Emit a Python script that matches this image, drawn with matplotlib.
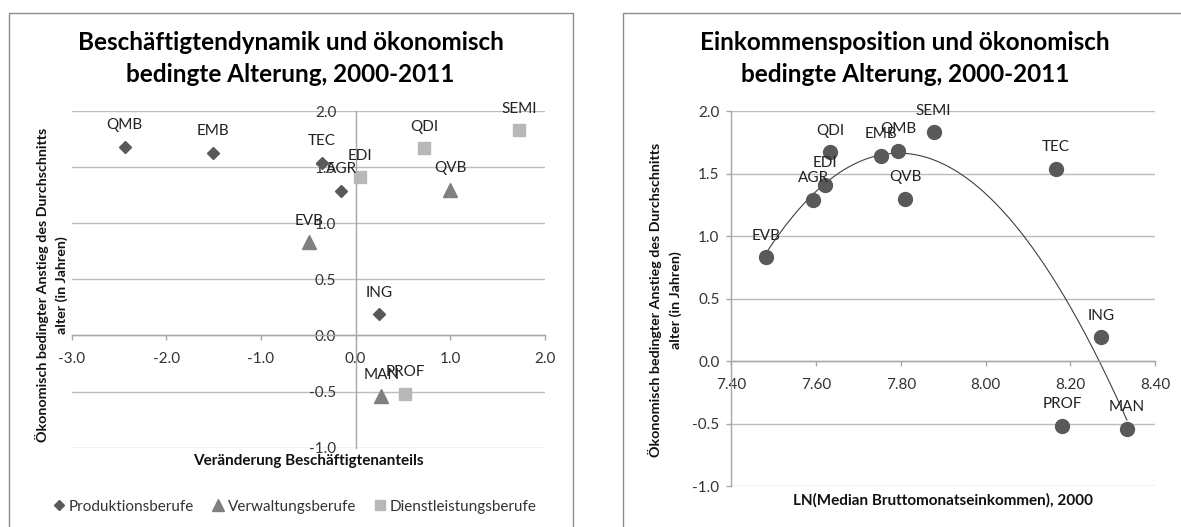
import numpy as np
import matplotlib
matplotlib.use("Agg")
import matplotlib.pyplot as plt
from matplotlib.lines import Line2D
from matplotlib.patches import Rectangle
from matplotlib.ticker import MultipleLocator, FormatStrFormatter

plt.rcParams['font.family'] = ['Lato', 'DejaVu Sans']

# ---------------- data ----------------
# Left chart: employment dynamics vs. ageing
prod_labels = ["QMB", "EMB", "TEC", "AGR", "ING"]
prod_x = [-2.44, -1.51, -0.36, -0.15, 0.25]
prod_y = [1.68, 1.63, 1.54, 1.29, 0.19]

verw_labels = ["EVB", "QVB", "MAN"]
verw_x = [-0.49, 1.00, 0.27]
verw_y = [0.83, 1.30, -0.54]

dienst_labels = ["SEMI", "QDI", "EDI", "PROF"]
dienst_x = [1.73, 0.72, 0.05, 0.52]
dienst_y = [1.83, 1.67, 1.41, -0.52]

# Right chart: income position vs. ageing
inc_labels = ["EVB", "AGR", "EDI", "QDI", "EMB", "QMB", "QVB", "SEMI", "TEC", "ING", "PROF", "MAN"]
inc_x = [7.483, 7.593, 7.621, 7.633, 7.754, 7.793, 7.810, 7.877, 8.166, 8.272, 8.181, 8.333]
inc_y = [0.83, 1.29, 1.41, 1.67, 1.64, 1.68, 1.30, 1.83, 1.54, 0.19, -0.52, -0.54]

legend_labels = ["Produktionsberufe", "Verwaltungsberufe", "Dienstleistungsberufe"]
title_left = ["Beschäftigtendynamik und ökonomisch", "bedingte Alterung, 2000-2011"]
title_right = ["Einkommensposition und ökonomisch", "bedingte Alterung, 2000-2011"]
ylabel_lines = ["Ökonomisch bedingter Anstieg des Durchschnitts", "alter (in Jahren)"]
xlabel_left = "Veränderung Beschäftigtenanteils"
xlabel_right = "LN(Median Bruttomonatseinkommen), 2000"

# ---------------- style ----------------
W, H = 1181, 527
fig = plt.figure(figsize=(W / 100, H / 100), dpi=100)

C_DIAM = "#595959"
C_TRI = "#808080"
C_SQ = "#b8b8b8"
C_GRID = "#bcbcbc"
C_AXIS = "#a6a6a6"
C_TICK = "#333333"
LBL_FS = 11
TICK_FS = 11


def fx(px):
    return px / W


def fy(py):
    return 1 - py / H


# panel borders
fig.add_artist(Rectangle((fx(8.5), -0.05), fx(573) - fx(8.5), fy(13.3) + 0.05,
                         transform=fig.transFigure, fill=False, ec="#8c8c8c", lw=1.0))
fig.add_artist(Rectangle((fx(623), -0.05), 0.5, fy(13.3) + 0.05,
                         transform=fig.transFigure, fill=False, ec="#8c8c8c", lw=1.0))


def style_axes(ax):
    ax.grid(axis="y", color=C_GRID, lw=1.0)
    ax.set_axisbelow(True)
    for s in ["top", "right"]:
        ax.spines[s].set_visible(False)
    for s in ["left", "bottom"]:
        ax.spines[s].set_color(C_AXIS)
        ax.spines[s].set_linewidth(1.0)
    ax.tick_params(axis="both", colors=C_AXIS, labelcolor=C_TICK, labelsize=TICK_FS,
                   length=3.5, width=1.0)
    ax.tick_params(axis="x", pad=8.5)
    ax.tick_params(axis="y", pad=6)


def annotate(ax, xs, ys, labels):
    for x, y, t in zip(xs, ys, labels):
        ax.annotate(t, (x, y), xytext=(0, 15.5), textcoords="offset points",
                    ha="center", va="center", fontsize=LBL_FS, color="#222222")


# ---------------- left chart ----------------
axL = fig.add_axes([fx(71.7), fy(447.7), fx(545) - fx(71.7), fy(111) - fy(447.7)])
axL.set_xlim(-3, 2)
axL.set_ylim(-1, 2)
axL.xaxis.set_major_locator(MultipleLocator(1.0))
axL.yaxis.set_major_locator(MultipleLocator(0.5))
axL.xaxis.set_major_formatter(FormatStrFormatter("%.1f"))
axL.yaxis.set_major_formatter(FormatStrFormatter("%.1f"))
style_axes(axL)
axL.spines["left"].set_position(("data", 0))
axL.spines["bottom"].set_position(("data", 0))
axL.tick_params(axis="y", length=0, pad=14)

axL.plot(prod_x, prod_y, ls="none", marker="D", ms=6.0, color=C_DIAM, zorder=3)
axL.plot(verw_x, verw_y, ls="none", marker="^", ms=9.5, color=C_TRI, zorder=3)
axL.plot(dienst_x, dienst_y, ls="none", marker="s", ms=8.5, color=C_SQ, zorder=3)
annotate(axL, prod_x, prod_y, prod_labels)
annotate(axL, verw_x, verw_y, verw_labels)
annotate(axL, dienst_x, dienst_y, dienst_labels)

# ---------------- right chart ----------------
axR = fig.add_axes([fx(731.3), fy(486), fx(1155.3) - fx(731.3), fy(111) - fy(486)])
axR.set_xlim(7.4, 8.4)
axR.set_ylim(-1, 2)
axR.xaxis.set_major_locator(MultipleLocator(0.2))
axR.yaxis.set_major_locator(MultipleLocator(0.5))
axR.xaxis.set_major_formatter(FormatStrFormatter("%.2f"))
axR.yaxis.set_major_formatter(FormatStrFormatter("%.1f"))
style_axes(axR)
axR.spines["bottom"].set_position(("data", 0))
axR.tick_params(axis="y", pad=5)

coef = np.polyfit(inc_x, inc_y, 3)
xs = np.linspace(min(inc_x), max(inc_x), 300)
axR.plot(xs, np.polyval(coef, xs), color="#404040", lw=0.8, zorder=2)
axR.plot(inc_x, inc_y, ls="none", marker="o", ms=10, color=C_DIAM, zorder=3)
annotate(axR, inc_x, inc_y, inc_labels)

# ---------------- titles & labels ----------------
for cx, lines in [(290.5, title_left), (905, title_right)]:
    fig.text(fx(cx), fy(43), lines[0], ha="center", va="center", fontsize=17.5,
             fontweight="bold", color="black")
    fig.text(fx(cx), fy(75), lines[1], ha="center", va="center", fontsize=17.5,
             fontweight="bold", color="black")

for x1, x2, cy in [(41.7, 61.7, 285), (655, 676, 300)]:
    fig.text(fx(x1), fy(cy), ylabel_lines[0], rotation=90, ha="center", va="center",
             fontsize=10.3, fontweight="bold", color="#111111")
    fig.text(fx(x2), fy(cy), ylabel_lines[1], rotation=90, ha="center", va="center",
             fontsize=10.3, fontweight="bold", color="#111111")

fig.text(fx(308), fy(461), xlabel_left, ha="center", va="center", fontsize=11,
         fontweight="bold", color="#111111")
fig.text(fx(943), fy(500), xlabel_right, ha="center", va="center", fontsize=11,
         fontweight="bold", color="#111111")

handles = [
    Line2D([], [], ls="none", marker="D", ms=5.0, color=C_DIAM),
    Line2D([], [], ls="none", marker="^", ms=8.0, color=C_TRI),
    Line2D([], [], ls="none", marker="s", ms=7.5, color=C_SQ),
]
fig.legend(handles, legend_labels, loc="center", bbox_to_anchor=(fx(295), fy(506.7)),
           ncol=3, frameon=False, fontsize=11, handlelength=0.7, handletextpad=0.3,
           columnspacing=1.2, labelcolor="#333333")

fig.savefig("out.png", dpi=100)
